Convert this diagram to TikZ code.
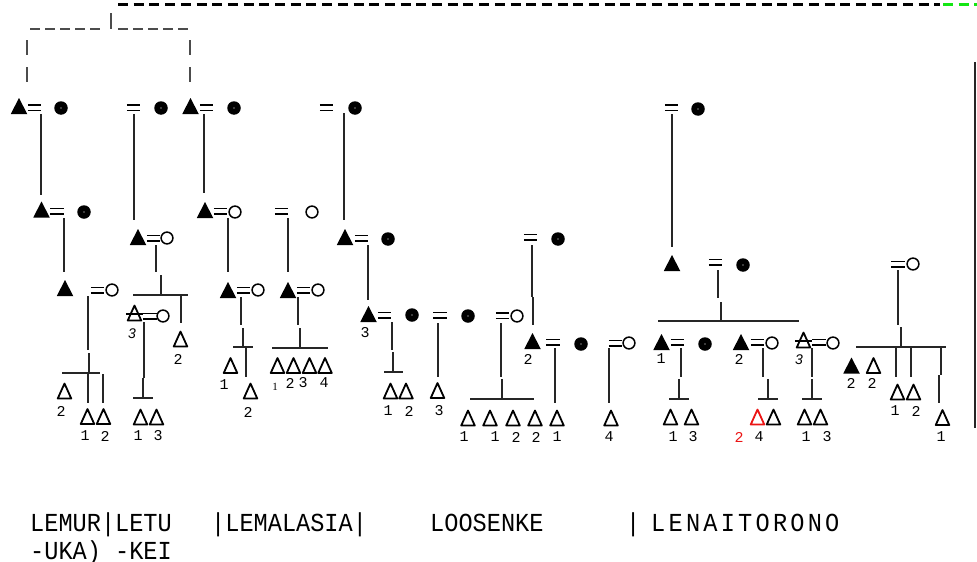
\documentclass[tikz,border=0pt]{standalone}
\usepackage{fontspec}
\setmainfont{Liberation Mono}
\newfontfamily\labfont{Liberation Mono}
\newfontfamily\serfont{Liberation Serif}
\newfontfamily\itfont{Liberation Sans}
\usetikzlibrary{shapes.geometric}
\definecolor{lgreen}{RGB}{20,230,20}
\definecolor{lred}{RGB}{235,20,20}
\newcommand\kM[3]{\node[tri,minimum width=16.5pt,minimum height=16pt] (#1) at (#2,#3) {};
  \fill (#1.south west) -- (#1.south east) -- (#1.north) -- cycle;}
\newcommand\kD[3]{\node[tri,minimum width=13.5pt,minimum height=15pt] (#1) at (#2,#3) {};
  \draw[dl] (#1.south west) -- (#1.south east) -- (#1.north) -- cycle;}
\newcommand\kR[3]{\node[tri,minimum width=13.5pt,minimum height=15pt] (#1) at (#2,#3) {};
  \draw[dl,draw=lred] (#1.south west) -- (#1.south east) -- (#1.north) -- cycle;}
\newcommand\kX[3]{\kD{#1}{#2}{#3}\draw[dl] ([xshift=-2pt,yshift=-1pt]#1.west) -- ([xshift=2pt,yshift=-1pt]#1.east);}
\newcommand\kE[3]{\node[eqs] (#1) at (#2,#3) {};}
\newcommand\kF[3]{\node[ff] (#1) at (#2,#3) {};}
\newcommand\kO[3]{\node[fo] (#1) at (#2,#3) {};}
\newcommand\kL[4]{\node[lab] (#1) at (#2,#3) {#4};}
\newcommand\kV[3]{\draw[ln] (#1,#2) -- (#1,#3);}
\newcommand\kH[3]{\draw[ln] (#2,#1) -- (#3,#1);}
\newcommand\tall[1]{\scalebox{1}[1.1]{#1}}
\begin{document}
\begin{tikzpicture}[x=1pt,y=-1pt,
  ln/.style={line width=1.6pt, draw=black!85},
  tri/.style={inner sep=0pt, outer sep=0pt, draw=none},
  dl/.style={line width=1.8pt, draw=black, line join=round},
  fo/.style={circle, draw=black, line width=1.5pt, minimum size=11.8pt, inner sep=0pt},
  ff/.style={circle, fill=black, minimum size=13.5pt, inner sep=0pt, path picture={\fill[white] (path picture bounding box.center) circle (0.7pt);}},
  eqline/.style={line width=1.5pt, draw=black},
  eqs/.style={minimum width=13.5pt, minimum height=5.5pt, inner sep=0pt, outer sep=0pt,
    append after command={(\tikzlastnode.north west) edge[eqline] (\tikzlastnode.north east)
      (\tikzlastnode.south west) edge[eqline] (\tikzlastnode.south east)}},
  lab/.style={inner sep=0pt, font=\labfont\fontsize{15}{15}\selectfont},
  slab/.style={inner sep=0pt, font=\serfont\fontsize{11}{11}\selectfont},
  ilab/.style={inner sep=0pt, font=\itfont\itshape\fontsize{14}{14}\selectfont},
  txt/.style={inner sep=0pt, anchor=base west, font=\fontsize{23.6}{24}\selectfont}
]
\useasboundingbox (0,0) rectangle (977,562);
% top dashed lines
\draw[line width=3pt, dash pattern=on 10pt off 5.7pt] (118,4) -- (940,4);
\draw[line width=3pt, draw=lgreen, dash pattern=on 10pt off 5.7pt] (943,4) -- (977,4);
\draw[line width=1.2pt, draw=black!70] (111,13) -- (111,29);
\draw[line width=1.2pt, draw=black!70, dash pattern=on 10pt off 5pt] (30,29) -- (104,29);
\draw[line width=1.2pt, draw=black!70, dash pattern=on 10pt off 5pt] (118,29) -- (192,29);
\draw[line width=1.2pt, draw=black!70, dash pattern=on 15pt off 12pt] (27,40) -- (27,82);
\draw[line width=1.2pt, draw=black!70, dash pattern=on 15pt off 12pt] (190,40) -- (190,82);
\draw[line width=1.6pt, draw=black!85] (975,62) -- (975,428);
% row 1
\kM{a1}{19}{106} \kE{a1e}{34.5}{107.5} \kF{a1w}{61}{108}
\kE{a2e}{133.5}{107.5} \kF{a2w}{161}{108}
\kM{a3}{190.5}{106} \kE{a3e}{206.5}{107.5} \kF{a3w}{234}{108}
\kE{a4e}{326.5}{107.5} \kF{a4w}{355}{108}
\kE{a5e}{671.5}{107.5} \kF{a5w}{698}{109}
\kV{41}{114}{195} \kV{134}{114}{220} \kV{204}{114}{193} \kV{344}{113}{220} \kV{672}{114}{247}
% row 2
\kM{b1}{41.5}{209.5} \kE{b1e}{57}{211} \kF{b1w}{84}{212}
\kM{b2}{138}{237} \kE{b2e}{153.5}{238} \kO{b2w}{167}{238}
\kM{b3}{205}{210} \kE{b3e}{220.5}{211} \kO{b3w}{235}{212}
\kE{b4e}{281.5}{211} \kO{b4w}{312}{212}
\kM{b5}{345}{237} \kE{b5e}{361.5}{238} \kF{b5w}{388}{239}
\kE{b6e}{530.5}{237} \kF{b6w}{558}{239}
\kM{b7}{672}{263} \kE{b7e}{715.5}{262} \kF{b7w}{743}{265}
\kE{b8e}{898}{264} \kO{b8w}{913}{264}
\kV{64}{218}{272} \kV{156}{245}{272} \kV{228}{218}{272} \kV{288}{218}{272}
\kV{368}{245}{300} \kV{532}{245}{297} \kV{533}{297}{325} \kV{718}{270}{298} \kV{898}{270}{325}
% row 3 left
\kM{c1}{65}{288} \kE{c1e}{97.5}{290} \kO{c1w}{112}{290}
\kM{c2}{228}{290} \kE{c2e}{243.5}{290} \kO{c2w}{258}{290}
\kM{c3}{288}{290} \kE{c3e}{303.5}{290} \kO{c3w}{318}{290}
% subtree of b2
\kV{161}{275}{295} \kH{295}{133}{188} \kV{181}{295}{323}
\kD{d1}{180.5}{339} \kL{d1l}{178}{359}{2}
\kX{d2}{134.5}{313} \kE{d2e}{150}{316} \kO{d2w}{163}{316}
\node[ilab] (d2l) at (132,334) {3};
\kV{144}{322}{378} \kV{143}{378}{398} \kH{398}{133}{153}
\kD{d3}{140.5}{417} \kD{d4}{156.5}{417} \kL{d3l}{138}{436}{1} \kL{d4l}{158}{436}{3}
% subtree of c1
\kV{88}{296}{350} \kV{89}{353}{372} \kH{373}{62}{100}
\kV{88}{373}{403} \kV{103}{374}{403}
\kD{e1}{64.5}{391} \kL{e1l}{61}{411}{2}
\kD{e2}{87.5}{416.5} \kD{e3}{103.5}{416.5} \kL{e2l}{85}{436}{1} \kL{e3l}{105}{436}{2}
% subtree of c2
\kV{241}{297}{325} \kV{243}{328}{347} \kH{347}{233}{253} \kV{246}{347}{377}
\kD{f1}{230.5}{365.5} \kL{f1l}{224}{385}{1}
\kD{f2}{250.5}{391} \kL{f2l}{248}{412}{2}
% subtree of c3
\kV{298}{297}{325} \kV{300}{328}{347} \kH{348}{272}{328}
\kD{g1}{277.5}{365.5} \kD{g2}{293.5}{365.5} \kD{g3}{309.5}{365.5} \kD{g4}{325}{365.5}
\node[slab] (g1l) at (275,387) {1};
\kL{g2l}{290}{383}{2} \kL{g3l}{303}{383}{3} \kL{g4l}{324}{383}{4}
% row 3 middle
\kM{h1}{368.5}{314} \kE{h1e}{384.5}{315} \kF{h1w}{412}{315} \kL{h1l}{365}{333}{3}
\kE{h2e}{440}{315} \kF{h2w}{468}{316}
\kE{h3e}{502.5}{315.5} \kO{h3w}{517}{316}
\kV{392}{322}{350} \kV{393}{352}{372} \kH{372}{384}{403}
\kD{i1}{390.5}{391} \kD{i2}{406}{391} \kL{i1l}{388}{411}{1} \kL{i2l}{409}{411}{2}
\kV{438}{323}{377} \kD{i3}{437.5}{390.5} \kL{i3l}{439}{411}{3}
\kV{501}{323}{377} \kV{502}{379}{399} \kH{399}{470}{534}
\kD{j1}{468}{418} \kD{j2}{490}{418} \kD{j3}{513}{418} \kD{j4}{535}{418}
\kL{j1l}{464}{437}{1} \kL{j2l}{495}{437}{1} \kL{j3l}{516}{437}{2} \kL{j4l}{536}{437}{2}
% row 3'
\kM{k1}{532.5}{341} \kE{k1e}{553}{342} \kF{k1w}{581}{344} \kL{k1l}{528}{359}{2}
\kE{k2e}{615.5}{343} \kO{k2w}{629}{343}
\kV{555}{348}{403} \kD{k3}{557}{418} \kL{k3l}{557}{437}{1}
\kV{609}{348}{403} \kD{k4}{611}{418} \kL{k4l}{609}{437}{4}
% right-middle family
\kV{721}{302}{321} \kH{321}{658}{799}
\kM{m1}{661.5}{342} \kE{m1e}{677.5}{342} \kF{m1w}{705}{344} \kL{m1l}{661}{359}{1}
\kM{m2}{741}{342} \kE{m2e}{757.5}{342} \kO{m2w}{772}{343} \kL{m2l}{739}{359}{2}
\kX{m3}{803.5}{340} \kE{m3e}{819}{342} \kO{m3w}{833}{343}
\node[ilab] (m3l) at (799,360) {3};
\kV{681}{348}{377} \kV{679}{379}{399} \kH{399}{669}{689}
\kD{n1}{670.5}{417} \kD{n2}{691.5}{417} \kL{n1l}{673}{437}{1} \kL{n2l}{693}{437}{3}
\kV{763}{348}{377} \kV{768}{379}{399} \kH{399}{758}{778}
\kR{n3}{757.5}{417} \kD{n4}{773.5}{417}
\node[lab,text=lred] (n3l) at (739,437) {2}; \kL{n4l}{759}{437}{4}
\kV{812}{348}{377} \kV{812}{379}{399} \kH{399}{802}{822}
\kD{n5}{804.5}{417} \kD{n6}{820.5}{417} \kL{n5l}{806}{437}{1} \kL{n6l}{827}{437}{3}
% far right family
\kV{901}{327}{347} \kH{347}{856}{946}
\kV{896}{347}{377} \kV{911}{347}{377} \kV{941}{347}{375} \kV{939}{375}{403}
\kM{p1}{851.5}{365.5} \kD{p2}{873.5}{365.5} \kL{p1l}{851}{383}{2} \kL{p2l}{872}{383}{2}
\kD{p3}{897.5}{392} \kD{p4}{913.5}{392} \kL{p3l}{895}{411}{1} \kL{p4l}{916}{411}{2}
\kD{p5}{942.5}{417.5} \kL{p5l}{941}{437}{1}
% bottom text
\node[txt] (t1) at (30,531) {\tall{LEMUR|LETU}};
\node[txt] (t2) at (211,531) {\tall{|LEMALASIA|}};
\node[txt] (t3) at (430,531) {\tall{LOOSENKE}};
\node[txt] (t4) at (626,531) {\tall{|}};
\foreach \c [count=\i from 0] in {L,E,N,A,I,T,O,R,O,N,O}
  {\node[txt] (tl\i) at (651+17.4*\i,531) {\tall{\c}};}
\node[txt] (t5) at (30,559) {\tall{-UKA) -KEI}};
\end{tikzpicture}
\end{document}
